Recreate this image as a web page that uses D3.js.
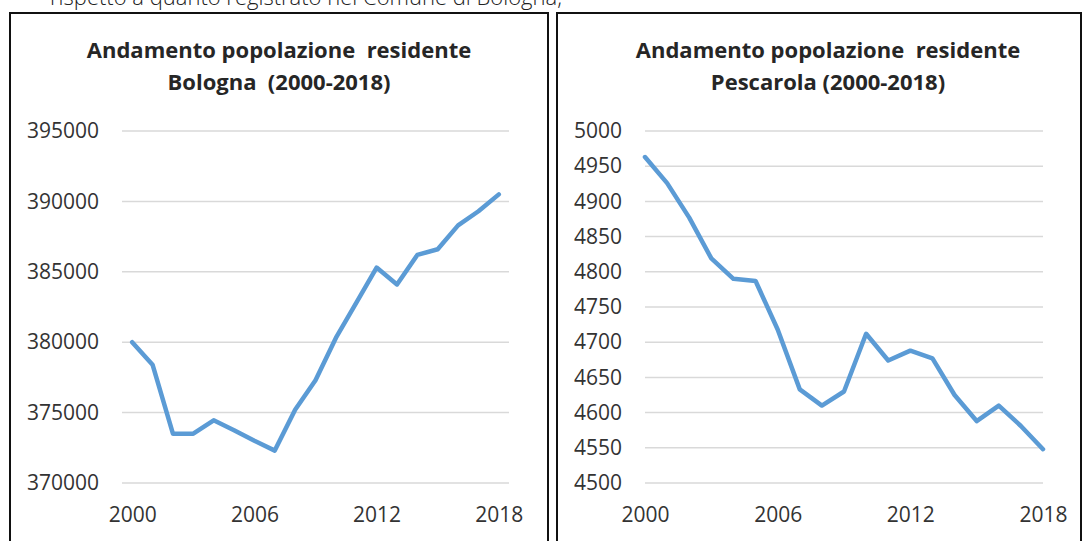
<!DOCTYPE html>
<html>
<head>
<meta charset="utf-8">
<script src="https://cdn.jsdelivr.net/npm/d3@7"></script>
<style>
  body { margin: 0; background: #fff; }
  svg { display: block; }
  text { font-family: "Open Sans", sans-serif; }
</style>
</head>
<body>
<svg width="1082" height="541"></svg>
<script>
// years on the category axis
const years = d3.range(2000, 2019);
const yearTicks = [2000, 2006, 2012, 2018];

// resident population, Bologna
const bologna = [380000, 378400, 373500, 373500, 374450, 373750, 373000, 372300, 375200, 377300,
                 380300, 382800, 385300, 384100, 386200, 386600, 388300, 389300, 390500];
const bolognaTicks = [370000, 375000, 380000, 385000, 390000, 395000];

// resident population, Pescarola
const pescarola = [4963, 4926, 4877, 4819, 4790, 4787, 4718, 4633, 4610, 4630,
                   4712, 4674, 4688, 4677, 4625, 4588, 4610, 4581, 4548];
const pescarolaTicks = [4500, 4550, 4600, 4650, 4700, 4750, 4800, 4850, 4900, 4950, 5000];

const svg = d3.select("svg");

// cut-off line of text above the charts
svg.append("text")
    .attr("x", 50)
    .attr("y", 5)
    .attr("font-size", 22)
    .attr("font-weight", 300)
    .attr("fill", "#222")
    .text("rispetto a quanto registrato nel Comune di Bologna,");

function drawChart(cfg) {
    const g = svg.append("g");

    // frame
    g.append("rect")
        .attr("x", cfg.box[0])
        .attr("y", 13)
        .attr("width", cfg.box[1] - cfg.box[0])
        .attr("height", 560)
        .attr("fill", "none")
        .attr("stroke", "#111")
        .attr("stroke-width", 2);

    // title
    const title = g.append("text")
        .attr("text-anchor", "middle")
        .attr("font-size", 22)
        .attr("font-weight", "bold")
        .attr("fill", "#262626");
    title.append("tspan").attr("x", cfg.titleX).attr("y", 58).text("Andamento popolazione\u00a0 residente");
    title.append("tspan").attr("x", cfg.titleX).attr("y", 90).text(cfg.subtitle);

    let x = d3.scalePoint().domain(years).range(cfg.xRange).padding(cfg.pad);
    let y = d3.scaleLinear().domain(cfg.yDomain).range([483, 131]);

    // gridlines
    g.selectAll(".grid")
        .data(cfg.ticks)
        .enter()
        .append("line")
        .attr("x1", cfg.xRange[0])
        .attr("x2", cfg.xRange[1])
        .attr("y1", d => y(d))
        .attr("y2", d => y(d))
        .attr("stroke", "#d9d9d9")
        .attr("stroke-width", 1.5);

    // y axis labels
    g.append("g")
        .attr("transform", "translate(" + cfg.xRange[0] + ",0)")
        .call(d3.axisLeft(y).tickValues(cfg.ticks).tickSize(0).tickPadding(cfg.yPad).tickFormat(d3.format("d")))
        .call(a => a.select(".domain").remove())
        .call(a => a.selectAll("text")
            .attr("font-family", "Open Sans")
            .attr("font-size", 21)
            .attr("fill", "#333"));

    // x axis labels
    g.append("g")
        .attr("transform", "translate(0,483)")
        .call(d3.axisBottom(x).tickValues(yearTicks).tickSize(0).tickPadding(24))
        .call(a => a.select(".domain").remove())
        .call(a => a.selectAll("text")
            .attr("font-family", "Open Sans")
            .attr("font-size", 21)
            .attr("fill", "#333"));

    // series
    const line = d3.line()
        .x((d, i) => x(years[i]))
        .y(d => y(d));

    g.append("path")
        .datum(cfg.values)
        .attr("d", line)
        .attr("fill", "none")
        .attr("stroke", "#5b9bd5")
        .attr("stroke-width", 4.5)
        .attr("stroke-linejoin", "round")
        .attr("stroke-linecap", "round");
}

drawChart({
    box: [10, 548],
    titleX: 279,
    subtitle: "Bologna\u00a0 (2000-2018)",
    xRange: [122, 509],
    pad: 0.5,
    yPad: 23,
    yDomain: [370000, 395000],
    ticks: bolognaTicks,
    values: bologna
});

drawChart({
    box: [557, 1081],
    titleX: 828,
    subtitle: "Pescarola (2000-2018)",
    xRange: [645, 1043],
    pad: 0,
    yPad: 23,
    yDomain: [4500, 5000],
    ticks: pescarolaTicks,
    values: pescarola
});
</script>
</body>
</html>
